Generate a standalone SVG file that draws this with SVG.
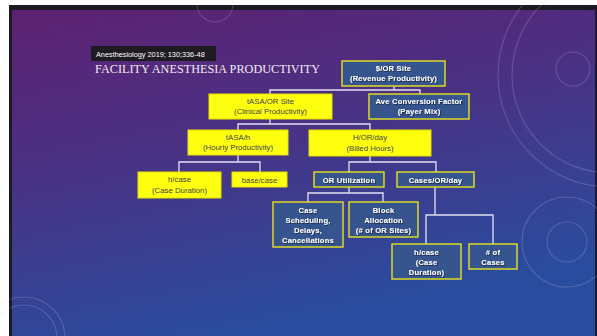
<svg xmlns="http://www.w3.org/2000/svg" width="597" height="336" viewBox="0 0 597 336">
  <defs>
    <linearGradient id="bg" x1="0" y1="0" x2="0.35" y2="1">
      <stop offset="0" stop-color="#5e2171"/>
      <stop offset="0.45" stop-color="#4a3184"/>
      <stop offset="1" stop-color="#2a4c9e"/>
    </linearGradient>
    <filter id="shadow" x="-10%" y="-20%" width="130%" height="150%">
      <feDropShadow dx="0.8" dy="0.8" stdDeviation="0.5" flood-color="#000" flood-opacity="0.6"/>
    </filter>
  </defs>
  <style>
    .deco { fill: none; stroke: #d8c8f0; stroke-opacity: 0.22; stroke-width: 1.1; }
    .yellow rect { fill: #ffff10; stroke: #e8e000; stroke-width: 1; }
    .yellow text { fill: #444444; font-family: "Liberation Sans", Arial, sans-serif; font-size: 7.8px; text-anchor: middle; }
    .blue rect { fill: #36558f; stroke: #e9e31c; stroke-width: 1.4; }
    .blue text { fill: #ffffff; font-family: "Liberation Sans", Arial, sans-serif; font-size: 7.6px; font-weight: bold; text-anchor: middle; letter-spacing: 0.2px; filter: url(#shadow); }
    #connectors path { fill: none; stroke: #e4e0f4; stroke-width: 1.3; }
  </style>

  <!-- page frame and slide background -->
  <rect x="0" y="0" width="597" height="336" fill="#ffffff"/>
  <rect x="9" y="5" width="588" height="331" fill="#1c1a22"/>
  <rect x="12" y="10" width="583" height="326" fill="url(#bg)"/>

  <!-- decorative rings -->
  <g id="decor">
    <circle class="deco" cx="215" cy="4" r="18"/>
    <circle class="deco" cx="610" cy="75" r="112"/>
    <circle class="deco" cx="610" cy="75" r="98" stroke-opacity="0.12"/>
    <circle class="deco" cx="573" cy="69" r="17"/>
    <circle class="deco" cx="567" cy="242" r="20"/>
    <circle class="deco" cx="567" cy="242" r="45" stroke-opacity="0.08"/>
    <circle class="deco" cx="24" cy="338" r="33"/>
    <circle class="deco" cx="24" cy="338" r="41" stroke-opacity="0.1"/>
  </g>

  <!-- citation and title -->
  <rect x="91" y="46" width="125" height="15" fill="#1e1b22"/>
  <text x="96" y="56.5" font-family="'Liberation Sans', Arial, sans-serif" font-size="7.3" fill="#ffffff">Anesthesiology 2019; 130;336-48</text>
  <text x="95" y="73" font-family="'Liberation Serif', 'Times New Roman', serif" font-size="12.5" fill="#f2ecf4" textLength="225" lengthAdjust="spacingAndGlyphs">FACILITY ANESTHESIA PRODUCTIVITY</text>

  <!-- connectors -->
  <g id="connectors">
    <path d="M394 86 V90 M270 94 V90 H420 V94"/>
    <path d="M270 119 V124 M238 130 V124 H370 V130"/>
    <path d="M238 155 V162 M179 172 V162 H260 V172"/>
    <path d="M370 156 V162 M349 172 V162 H436 V172"/>
    <path d="M349 187 V193 M308 202 V193 H383 V202"/>
    <path d="M435 187 V215 M426 244 V215 H493 V244"/>
  </g>

  <!-- nodes -->
  <g id="revenue" class="blue">
    <rect x="342" y="61" width="103" height="25"/>
    <text x="393.5" y="71">$/OR Site</text>
    <text x="393.5" y="81">(Revenue Productivity)</text>
  </g>
  <g id="clinical" class="yellow">
    <rect x="209" y="94" width="123" height="25"/>
    <text x="270.5" y="104">tASA/OR Site</text>
    <text x="270.5" y="114">(Clinical Productivity)</text>
  </g>
  <g id="conversion" class="blue">
    <rect x="369" y="94" width="100" height="25"/>
    <text x="419" y="104">Ave Conversion Factor</text>
    <text x="419" y="114">(Payer Mix)</text>
  </g>
  <g id="hourly" class="yellow">
    <rect x="188" y="130" width="100" height="25"/>
    <text x="238" y="140">tASA/h</text>
    <text x="238" y="150">(Hourly Productivity)</text>
  </g>
  <g id="billed" class="yellow">
    <rect x="309" y="130" width="122" height="26"/>
    <text x="370" y="140">H/OR/day</text>
    <text x="370" y="150.5">(Billed Hours)</text>
  </g>
  <g id="case-duration" class="yellow">
    <rect x="138" y="172" width="83" height="26"/>
    <text x="179.5" y="182">h/case</text>
    <text x="179.5" y="192.5">(Case Duration)</text>
  </g>
  <g id="base-case" class="yellow">
    <rect x="232" y="172" width="55" height="15"/>
    <text x="259.5" y="182.5">base/case</text>
  </g>
  <g id="or-utilization" class="blue">
    <rect x="314" y="172" width="70" height="15"/>
    <text x="349" y="182.5">OR Utilization</text>
  </g>
  <g id="cases-per-day" class="blue">
    <rect x="397" y="172" width="77" height="15"/>
    <text x="435.5" y="182.5">Cases/OR/day</text>
  </g>
  <g id="scheduling" class="blue">
    <rect x="273" y="202" width="70" height="45"/>
    <text x="308" y="213">Case</text>
    <text x="308" y="223">Scheduling,</text>
    <text x="308" y="233">Delays,</text>
    <text x="308" y="243">Cancellations</text>
  </g>
  <g id="block" class="blue">
    <rect x="349" y="202" width="69" height="35"/>
    <text x="383.5" y="213">Block</text>
    <text x="383.5" y="223">Allocation</text>
    <text x="383.5" y="233">(# of OR Sites)</text>
  </g>
  <g id="case-duration-2" class="blue">
    <rect x="392" y="244" width="69" height="35"/>
    <text x="426.5" y="255">h/case</text>
    <text x="426.5" y="265">(Case</text>
    <text x="426.5" y="275">Duration)</text>
  </g>
  <g id="num-cases" class="blue">
    <rect x="469" y="244" width="48" height="25"/>
    <text x="493" y="255">&#35; of</text>
    <text x="493" y="265">Cases</text>
  </g>
</svg>
